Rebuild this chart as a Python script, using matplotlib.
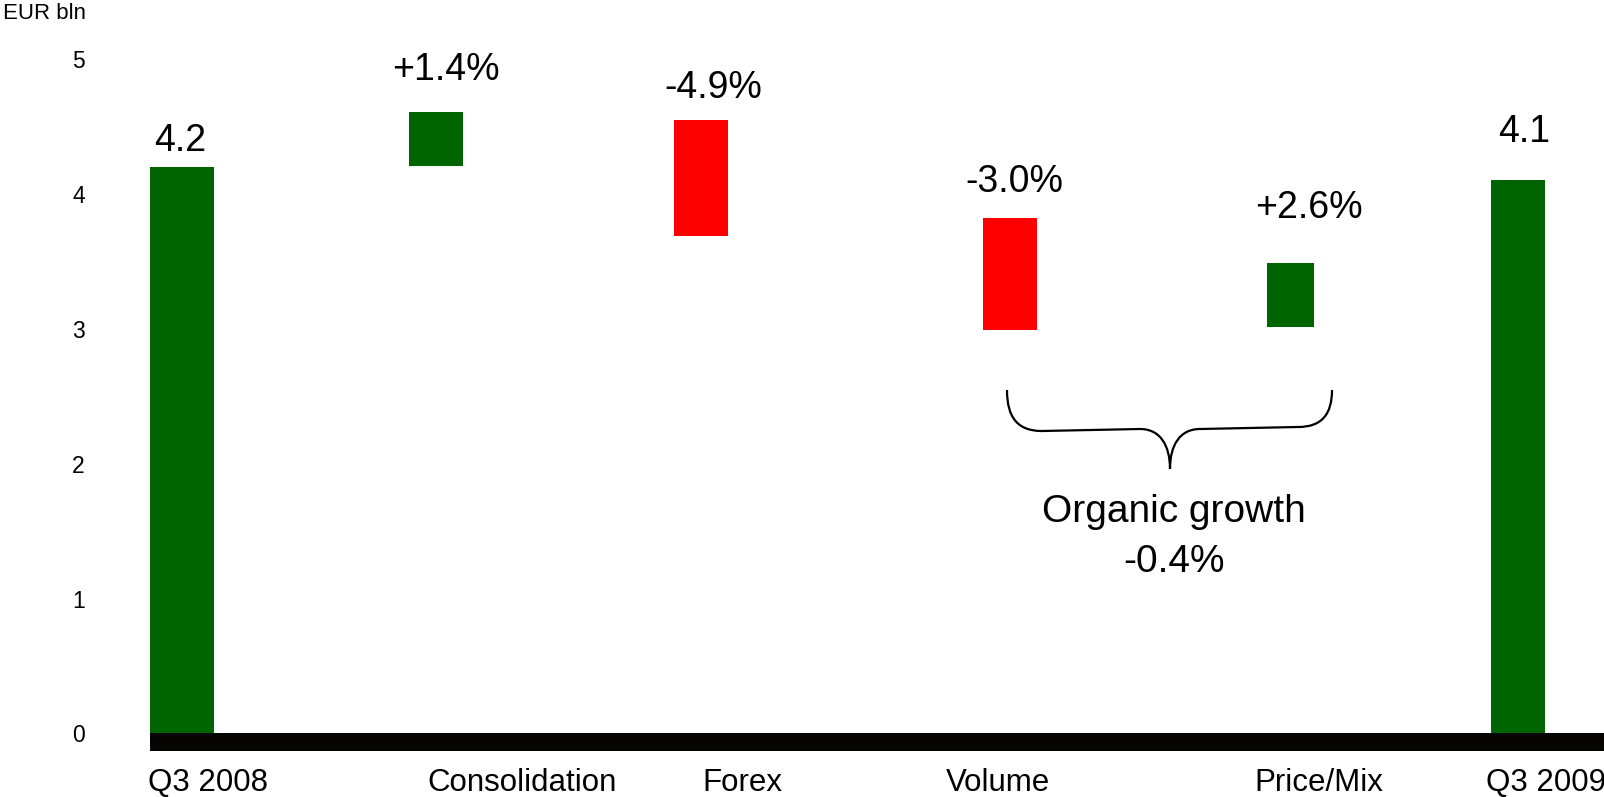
import matplotlib.pyplot as plt
import matplotlib.transforms as mtransforms
from matplotlib.path import Path
from matplotlib.patches import PathPatch

# sales bridge, EUR bln
categories = ['Q3 2008', 'Consolidation', 'Forex', 'Volume', 'Price/Mix', 'Q3 2009']
start_total = 4.2
end_total = 4.1
step_labels = ['+1.4%', '-4.9%', '-3.0%', '+2.6%']
step_low = [4.21, 3.69, 2.99, 3.01]
step_high = [4.61, 4.55, 3.82, 3.49]
organic_label = 'Organic growth'
organic_value = '-0.4%'

# layout (x in units of 100 px from the left end of the base line)
bar_x = [0.32, 2.86, 5.51, 8.60, 11.40, 13.68]
bar_w = [0.64, 0.54, 0.54, 0.54, 0.47, 0.54]
label_x = [0.58, 3.72, 5.92, 8.48, 11.69, 13.96]
val_dx = [-1.5, 7, 9, 3.5, 13.5, 4.5]      # points
val_dy = [11.5, 23, 16, 19, 32, 28]        # points

plt.rcParams['font.family'] = 'Liberation Sans'

W, H = 1604, 797
fig = plt.figure(figsize=(W / 100, H / 100), dpi=100)
ax = fig.add_axes([150 / W, (H - 751) / H, (W - 150) / W, 751 / H])
ax.set_xlim(0, 14.54)
ax.set_ylim(-0.13, 5.438)

green = '#006400'
red = '#ff0000'
bottoms = [0] + step_low + [0]
heights = [start_total] + [hi - lo for hi, lo in zip(step_high, step_low)] + [end_total]
colors = [green] + [green if s.startswith('+') else red for s in step_labels] + [green]
ax.bar(bar_x, heights, width=bar_w, bottom=bottoms, color=colors, linewidth=0)
ax.axhspan(-0.13, 0, color='#050402', linewidth=0)

tops = [start_total] + step_high + [end_total]
texts = ['%.1f' % start_total] + step_labels + ['%.1f' % end_total]
for x, t, s, dx, dy in zip(bar_x, tops, texts, val_dx, val_dy):
    ax.annotate(s, (x, t), xytext=(dx, dy), textcoords='offset points',
                ha='center', va='baseline', fontsize=27)

# axes
for sp in ax.spines.values():
    sp.set_visible(False)
ax.set_yticks(range(6))
ax.set_yticklabels([str(i) for i in range(6)])
ax.tick_params(axis='y', length=0, pad=47, labelsize=16.5)
ax.set_xticks(label_x)
ax.set_xticklabels(categories)
ax.tick_params(axis='x', length=0, pad=12, labelsize=22.5)
fig.text(3 / W, 1 - 3 / H, 'EUR bln', ha='left', va='top', fontsize=16)

# brace under volume and price/mix
px = mtransforms.Affine2D().scale(1 / W, -1 / H).translate(0, 1) + fig.transFigure
verts = [(1007, 390),
         (1007, 418), (1018, 431), (1042, 431),
         (1140, 429),
         (1160, 429), (1170, 445), (1170, 469),
         (1170, 445), (1180, 429), (1200, 429),
         (1298, 427),
         (1322, 427), (1332, 414), (1332, 390)]
codes = ([Path.MOVETO] + [Path.CURVE4] * 3 + [Path.LINETO] + [Path.CURVE4] * 6
         + [Path.LINETO] + [Path.CURVE4] * 3)
fig.patches.append(PathPatch(Path(verts, codes), transform=px, fill=False,
                             edgecolor='black', linewidth=1.6))
fig.text(1174 / W, 1 - 512 / H, organic_label, ha='center', va='center', fontsize=28)
fig.text(1174 / W, 1 - 562 / H, organic_value, ha='center', va='center', fontsize=28)

plt.savefig('out.png', dpi=100)
